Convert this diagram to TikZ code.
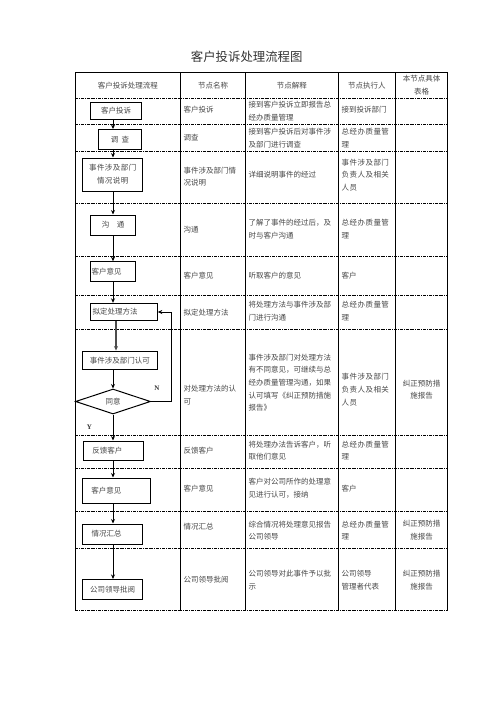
\documentclass[tikz,border=0pt]{standalone}
\usepackage{fontspec}
\setmainfont{Noto Sans CJK SC}
\newfontfamily\widecjk[LetterSpace=6]{Noto Sans CJK SC}
\newfontfamily\latserif{Liberation Serif}
\usetikzlibrary{arrows.meta,shapes.geometric}
\begin{document}
\begin{tikzpicture}[x=1pt,y=-1pt,
  txt/.style={font=\fontsize{7.5}{12.7}\selectfont, text=black!72, inner sep=0pt, align=left, anchor=west},
  wtxt/.style={txt, font=\widecjk\fontsize{7.5}{12.7}\selectfont},
  ctxt/.style={txt, align=center, anchor=center},
  fbox/.style={draw, line width=1pt, font=\fontsize{7.5}{12.7}\selectfont, text=black!72, inner sep=0pt, align=center},
  rowline/.style={line width=0.6pt, dash pattern=on 3pt off 1pt on 0.8pt off 1pt},
  frame/.style={line width=0.8pt},
  arr/.style={line width=0.8pt, -{Stealth[length=4.5pt,width=4pt]}},
  yn/.style={font=\latserif\bfseries\fontsize{7}{8}\selectfont, text=black!80, inner sep=0pt}
]
\useasboundingbox (0,0) rectangle (496,702);
\fill[white] (0,0) rectangle (496,702);

% title
\node[font=\fontsize{12.4}{14}\selectfont, text=black!80, inner sep=0pt] (title) at (246.7,56.7) {客户投诉处理流程图};

% table frame
\draw[frame] (75,72.7) -- (447.7,72.7);
\foreach \x in {75,180.7,245.3,338.3,395.3,447.7}
  \draw[frame] (\x,72.7) -- (\x,610.7);
\foreach \y in {98.3,124.3,151.3,203.3,256,295.3,329.3,435.5,468.3,511.5,548,610.7}
  \draw[rowline] (75,\y) -- (447.7,\y);

% header
\node[ctxt] (h1) at (127.8,85.5) {客户投诉处理流程};
\node[ctxt] (h2) at (213,85.5) {节点名称};
\node[ctxt] (h3) at (291.8,85.5) {节点解释};
\node[ctxt] (h4) at (366.8,85.5) {节点执行人};
\node[ctxt] (h5) at (421.5,85) {本节点具体\\表格};

% flow boxes
\node[fbox, minimum width=51pt, minimum height=17pt] (b1) at (116.2,110.5) {客户投诉};
\node[fbox, minimum width=43.4pt, minimum height=19.5pt] (b2) at (120,139.3) {调\hspace{3.5pt}查};
\node[fbox, minimum width=60pt, minimum height=33pt, font=\widecjk\fontsize{7.5}{13.3}\selectfont] (b3) at (112.7,174.5) {事件涉及部门\\情况说明};
\node[fbox, minimum width=45pt, minimum height=20pt] (b4) at (113.2,225) {沟\hspace{7.5pt}通};
\node[fbox, minimum width=45pt, minimum height=20pt] (b5) at (113.2,271.7) {客户意见\hspace{13pt}};
\node[fbox, minimum width=66.6pt, minimum height=17.4pt] (b6) at (124,312) {拟定处理方法\hspace{18pt}};
\node[fbox, minimum width=74.3pt, minimum height=18.3pt] (b7) at (119.9,360.2) {事件涉及部门认可};
\node[fbox, diamond, aspect=3, minimum width=75pt, minimum height=25pt] (b8) at (113,401.5) {同意};
\node[fbox, minimum width=60pt, minimum height=19pt] (b9) at (113.3,450.5) {反馈客户\hspace{12pt}};
\node[fbox, minimum width=68.7pt, minimum height=25pt] (b10) at (116.4,490.5) {客户意见\hspace{20pt}};
\node[fbox, minimum width=60pt, minimum height=20pt] (b11) at (112.7,534) {情况汇总\hspace{12pt}};
\node[fbox, minimum width=60pt, minimum height=20.5pt] (b12) at (112.7,589.7) {公司领导批阅};

% connectors
\coordinate (spine) at (113,0);
\coordinate (spineb) at (116,0);
\coordinate (loopx) at (171.7,0);
\draw[arr] (b1.south -| spine) -- (b2.north -| spine);
\draw[arr] (b2.south -| spine) -- (b3.north -| spine);
\draw[arr] (b3.south -| spine) -- (b4.north -| spine);
\draw[arr] (b4.south -| spine) -- (b5.north -| spine);
\draw[arr] (b5.south -| spine) -- (b6.north -| spine);
\draw[arr, black!70, line width=1.1pt] (b6.south -| spineb) -- (b7.north -| spineb);
\draw[arr] (b7.south -| spine) -- (b8.north);
\draw[arr] (b8.south) -- (b9.north -| spine);
\draw[arr] (b9.south -| spine) -- (b10.north -| spine);
\draw[arr] (b10.south -| spine) -- (b11.north -| spine);
\draw[arr] (b11.south -| spine) -- (b12.north -| spine);
\draw[arr] (b8.east) -- (b8.east -| loopx) |- (b6.east);
\node[yn] (lN) at (157,388.3) {N};
\node[yn] (lY) at (89.5,427) {Y};

% column 2
\node[txt] (c21) at (183.5,109.5) {客户投诉};
\node[txt] (c22) at (183.5,137.7) {调查};
\node[txt] (c23) at (183.5,176.7) {事件涉及部门情\\况说明};
\node[txt] (c24) at (183.5,229.3) {沟通};
\node[txt] (c25) at (183.5,276) {客户意见};
\node[txt] (c26) at (183.5,312.7) {拟定处理方法};
\node[txt] (c27) at (183.5,395.2) {对处理方法的认\\可};
\node[txt] (c28) at (183.5,450.7) {反馈客户};
\node[txt] (c29) at (183.5,488.3) {客户意见};
\node[txt] (c210) at (183.5,527) {情况汇总};
\node[txt] (c211) at (183.5,580) {公司领导批阅};

% column 3
\node[txt] (c31) at (248.5,111) {接到客户投诉立即报告总\\经办质量管理};
\node[txt] (c32) at (248.5,138.3) {接到客户投诉后对事件涉\\及部门进行调查};
\node[txt] (c33) at (248.5,175) {详细说明事件的经过};
\node[txt] (c34) at (248.5,228.9) {了解了事件的经过后，及\\时与客户沟通};
\node[txt] (c35) at (248.5,276) {听取客户的意见};
\node[txt] (c36) at (248.5,311.3) {将处理方法与事件涉及部\\门进行沟通};
\node[txt] (c37) at (248.5,382.7) {事件涉及部门对处理方法\\有不同意见，可继续与总\\经办质量管理沟通，如果\\认可填写《纠正预防措施\\报告》};
\node[txt] (c38) at (248.5,450.5) {将处理办法告诉客户，听\\取他们意见};
\node[txt] (c39) at (248.5,488.3) {客户对公司所作的处理意\\见进行认可，接纳};
\node[txt] (c310) at (248.5,530.5) {综合情况将处理意见报告\\公司领导};
\node[txt] (c311) at (248.5,580.3) {公司领导对此事件予以批\\示};

% column 4
\node[txt] (c41) at (341.5,110) {接到投诉部门};
\node[wtxt] (c42) at (341.5,138.3) {总经办质量管\\理};
\node[wtxt] (c43) at (341.5,175) {事件涉及部门\\负责人及相关\\人员};
\node[wtxt] (c44) at (341.5,228.9) {总经办质量管\\理};
\node[txt] (c45) at (341.5,276) {客户};
\node[wtxt] (c46) at (341.5,311.3) {总经办质量管\\理};
\node[wtxt] (c47) at (341.5,389.6) {事件涉及部门\\负责人及相关\\人员};
\node[wtxt] (c48) at (341.5,450.5) {总经办质量管\\理};
\node[txt] (c49) at (341.5,488.3) {客户};
\node[wtxt] (c410) at (341.5,530.5) {总经办质量管\\理};
\node[txt] (c411) at (341.5,580.3) {公司领导\\管理者代表};

% column 5
\node[ctxt] (c57) at (421.5,389.7) {纠正预防措\\施报告};
\node[ctxt] (c510) at (421.5,530.5) {纠正预防措\\施报告};
\node[ctxt] (c511) at (421.5,580.3) {纠正预防措\\施报告};
\end{tikzpicture}
\end{document}
